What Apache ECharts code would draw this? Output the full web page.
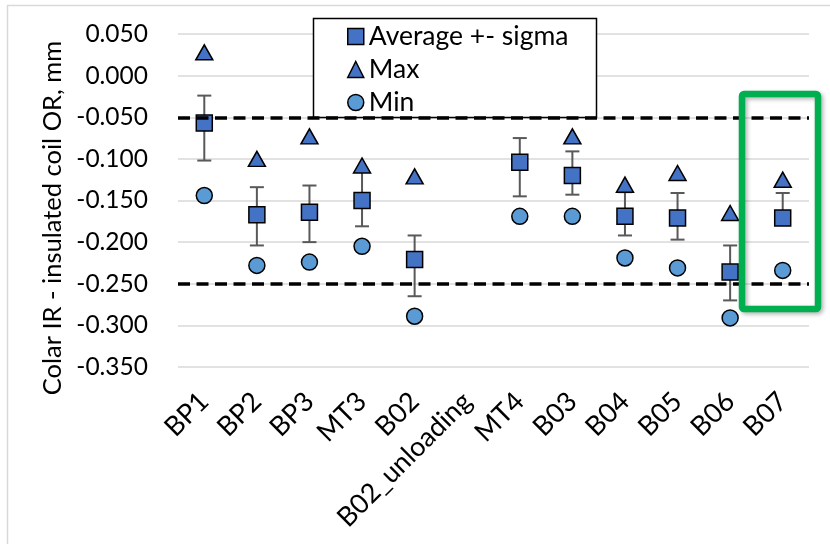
<!DOCTYPE html>
<html>
<head>
<meta charset="utf-8">
<script src="https://cdn.jsdelivr.net/npm/echarts@6/dist/echarts.min.js"></script>
<style>
  html, body { margin: 0; padding: 0; background: #fff; }
  #chart { width: 830px; height: 544px; }
</style>
</head>
<body>
<div id="chart"></div>
<script>
// Coil OR offset per test step (mm)
const categories = ['BP1', 'BP2', 'BP3', 'MT3', 'B02', 'B02_unloading', 'MT4', 'B03', 'B04', 'B05', 'B06', 'B07'];
const averageValues = [-0.057, -0.167, -0.164, -0.150, -0.221, null, -0.104, -0.120, -0.169, -0.171, -0.236, -0.171];
const sigmaUpper = [-0.024, -0.134, -0.132, -0.115, -0.192, null, -0.075, -0.091, -0.140, -0.141, -0.204, -0.141];
const sigmaLower = [-0.102, -0.204, -0.200, -0.181, -0.265, null, -0.145, -0.143, -0.192, -0.197, -0.270, -0.175];
const maxValues = [0.028, -0.100, -0.073, -0.108, -0.121, null, null, -0.073, -0.131, -0.117, -0.165, -0.125];
const minValues = [-0.144, -0.228, -0.224, -0.205, -0.289, null, -0.169, -0.169, -0.219, -0.231, -0.291, -0.234];
const toleranceLimits = [-0.05, -0.25];
const yTicks = { min: -0.35, max: 0.05, interval: 0.05 };

const FONT = 'Lato';
const darkBlue = '#4472C4';
const lightBlue = '#5B9BD5';

const errorData = categories.map((c, i) => [i, sigmaLower[i], sigmaUpper[i]])
  .filter(d => d[1] != null && d[2] != null);

const chart = echarts.init(document.getElementById('chart'), null, { renderer: 'canvas' });

chart.setOption({
  animation: false,
  backgroundColor: '#fff',
  grid: { left: 178, right: 21, top: 34, bottom: 177 },
  xAxis: {
    type: 'category',
    data: categories,
    axisLine: { show: false },
    axisTick: { show: false },
    axisLabel: {
      interval: 0, rotate: 45, margin: 30,
      fontFamily: FONT, fontSize: 27, color: '#000'
    }
  },
  yAxis: {
    type: 'value',
    min: yTicks.min, max: yTicks.max, interval: yTicks.interval,
    axisLine: { show: false },
    axisTick: { show: false },
    splitLine: { lineStyle: { color: '#d9d9d9', width: 1.5 } },
    axisLabel: {
      margin: 30, fontFamily: FONT, fontSize: 24.5, color: '#000',
      formatter: v => v.toFixed(3)
    }
  },
  legend: {
    orient: 'vertical',
    left: 347, top: 23,
    padding: 0,
    itemWidth: 16, itemHeight: 16, itemGap: 6, itemTextGap: 10,
    textStyle: { fontFamily: FONT, fontSize: 26.5, color: '#000', lineHeight: 26.5 },
    data: [
      { name: 'Average +- sigma', icon: 'rect', itemStyle: { color: darkBlue, borderColor: '#000', borderWidth: 1.5 } },
      { name: 'Max', icon: 'triangle', itemStyle: { color: darkBlue, borderColor: '#000', borderWidth: 1.5 } },
      { name: 'Min', icon: 'circle', itemStyle: { color: lightBlue, borderColor: '#000', borderWidth: 1.5 } }
    ],
    z: 6
  },
  graphic: [
    // chart frame
    { type: 'rect', z: -10, silent: true,
      shape: { x: 7.5, y: 5.5, width: 840, height: 560 },
      style: { fill: null, stroke: '#d9d9d9', lineWidth: 1.5 } },
    // legend box
    { type: 'rect', z: 5, silent: true,
      shape: { x: 313.5, y: 18.5, width: 283, height: 99 },
      style: { fill: '#fff', stroke: '#000', lineWidth: 1.5 } },
    // y axis title
    { type: 'text', silent: true, x: 53, y: 218, rotation: Math.PI / 2,
      style: { text: 'Colar IR - insulated coil OR, mm', fontFamily: FONT, fontSize: 25.5,
        fill: '#000', align: 'center', verticalAlign: 'middle' } },
    // highlight around B07
    { type: 'rect', z: 20, silent: true,
      shape: { x: 742, y: 94, width: 76, height: 215, r: 2 },
      style: { fill: null, stroke: '#00B050', lineWidth: 6.5,
        shadowBlur: 4, shadowColor: 'rgba(0,0,0,0.3)', shadowOffsetX: 2, shadowOffsetY: 2 } }
  ],
  series: [
    {
      name: 'sigma',
      type: 'custom',
      z: 1,
      silent: true,
      data: errorData,
      renderItem: (params, api) => {
        const x = api.coord([api.value(0), 0])[0];
        const yLo = api.coord([api.value(0), api.value(1)])[1];
        const yHi = api.coord([api.value(0), api.value(2)])[1];
        const cap = 7;
        const style = { stroke: '#595959', lineWidth: 2 };
        return {
          type: 'group',
          children: [
            { type: 'line', shape: { x1: x, y1: yHi, x2: x, y2: yLo }, style },
            { type: 'line', shape: { x1: x - cap, y1: yHi, x2: x + cap, y2: yHi }, style },
            { type: 'line', shape: { x1: x - cap, y1: yLo, x2: x + cap, y2: yLo }, style }
          ]
        };
      }
    },
    {
      name: 'limits',
      type: 'line',
      data: [],
      markLine: {
        silent: true,
        symbol: 'none',
        label: { show: false },
        lineStyle: { color: '#000', width: 3.5, type: [12, 6.5] },
        data: toleranceLimits.map(v => ({ yAxis: v }))
      }
    },
    {
      name: 'Average +- sigma',
      type: 'scatter',
      z: 3,
      symbol: 'rect',
      symbolSize: 16,
      itemStyle: { color: darkBlue, borderColor: '#000', borderWidth: 1.5, opacity: 1 },
      data: averageValues
    },
    {
      name: 'Max',
      type: 'scatter',
      z: 3,
      symbol: 'triangle',
      symbolSize: [17, 15],
      itemStyle: { color: darkBlue, borderColor: '#000', borderWidth: 1.5, opacity: 1 },
      data: maxValues
    },
    {
      name: 'Min',
      type: 'scatter',
      z: 3,
      symbol: 'circle',
      symbolSize: 16,
      itemStyle: { color: lightBlue, borderColor: '#000', borderWidth: 1.5, opacity: 1 },
      data: minValues
    }
  ]
});
</script>
</body>
</html>
